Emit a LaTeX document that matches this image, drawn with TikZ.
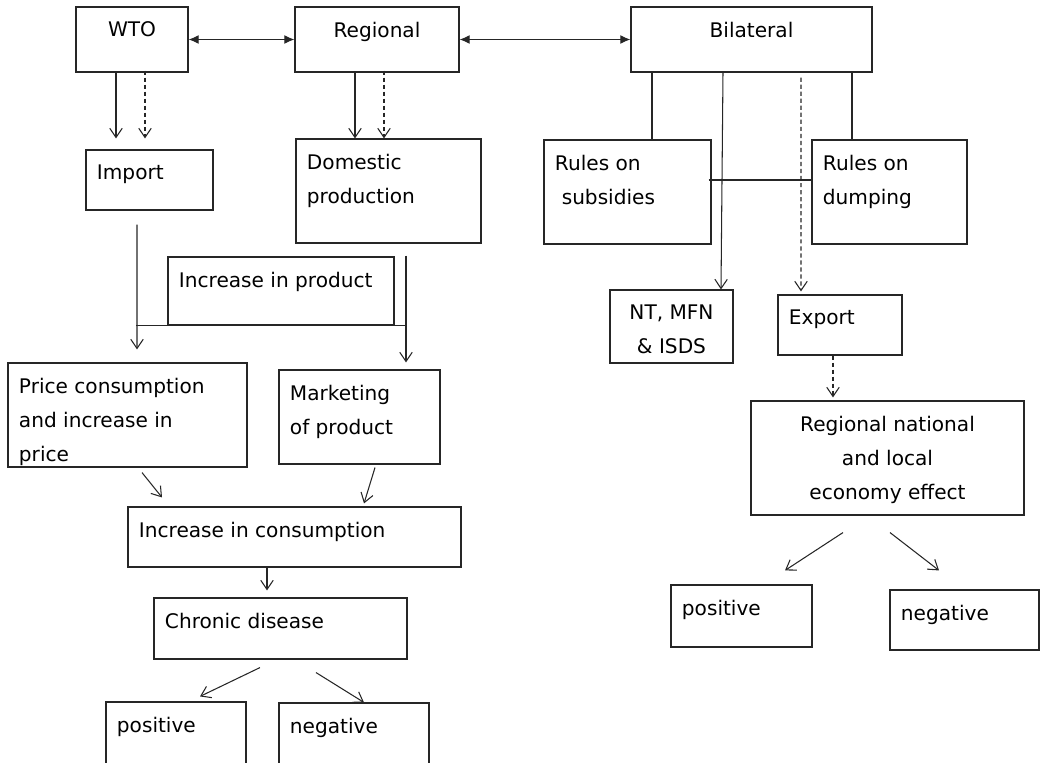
\documentclass[tikz,border=0pt]{standalone}
\usepackage{fontspec}
\setmainfont{DejaVu Sans}
\usetikzlibrary{arrows.meta,calc,fit}
\tikzset{
  box/.style={draw=black!85, line width=0.8pt, inner sep=0pt},
  lbl/.style={inner xsep=8pt, inner ysep=10.8pt, align=left, font=\fontsize{14.3}{24.2}\selectfont},
  tl/.style={label={[lbl,anchor=north west]north west:#1}},
  tc/.style={label={[lbl,align=center,anchor=north]north:#1}},
  link/.style={draw=black!85, line width=0.75pt},
  >={Straight Barb[length=2.3mm,width=3.1mm]},
  dbl/.style={link,{Latex[length=2.5mm,width=2.2mm]}-{Latex[length=2.5mm,width=2.2mm]}},
}
\begin{document}
\begin{tikzpicture}[x=0.025cm,y=-0.025cm]
  \useasboundingbox (0,0) rectangle (1042,763);
  \clip (0,0) rectangle (1042,763);
  % agreements
  \node[box,fit={(76,7)(188,72)},tc=WTO] (wto) {};
  \node[box,fit={(295,7)(459,72)},tc=Regional] (reg) {};
  \node[box,fit={(631,7)(872,72)},tc=Bilateral] (bil) {};
  % second row
  \node[box,fit={(86,150)(213,210)},tl=Import] (imp) {};
  \node[box,fit={(296,139)(481,243)},tl={Domestic\\production}] (dom) {};
  \node[box,fit={(544,140)(711,244)},tl={Rules on\\\hspace*{0.17cm}subsidies}] (subs) {};
  \node[box,fit={(812,140)(967,244)},tl={Rules on\\dumping}] (dump) {};
  \node[box,fit={(168,257)(394,325)},tl={Increase in product}] (prod) {};
  \node[box,fit={(610,290)(733,363)},tc={{NT, MFN}\\\& ISDS}] (nt) {};
  \node[box,fit={(778,295)(902,355)},tl=Export] (exp) {};
  % effects
  \node[box,fit={(8,363)(247,467)},tl={Price consumption\\and increase in\\price}] (price) {};
  \node[box,fit={(279,370)(440,464)},tl={Marketing\\of product}] (mkt) {};
  \node[box,fit={(751,401)(1024,515)},tc={Regional national\\and local\\economy effect}] (rne) {};
  \node[box,fit={(128,507)(461,567)},tl={Increase in consumption}] (cons) {};
  \node[box,fit={(154,598)(407,659)},tl={Chronic disease}] (chr) {};
  \node[box,fit={(106,702)(246,790)},tl=positive] (pos) {};
  \node[box,fit={(279,703)(429,790)},tl=negative] (neg) {};
  \node[box,fit={(671,585)(812,647)},tl=positive] (rpos) {};
  \node[box,fit={(890,590)(1039,650)},tl=negative] (rneg) {};

  % links between agreements
  \draw[dbl] (wto.east) -- (reg.west);
  \draw[dbl] (reg.east) -- (bil.west);
  \draw[link,->] ($(wto.south)+(-16,0)$) -- ($(imp.north)+(-33.5,-11)$);
  \draw[link,->,densely dashed] ($(wto.south)+(13,-2)$) -- ($(imp.north)+(-4.5,-11)$);
  \draw[link,->] ($(reg.south)+(-22,0)$) -- ($(dom.north)+(-33.5,0)$);
  \draw[link,->,densely dashed] ($(reg.south)+(7,-2)$) -- ($(dom.north)+(-4.5,0)$);
  \draw[link] ($(bil.south)+(-99.5,0)$) coordinate (b1) -- (b1 |- subs.north);
  \draw[link] ($(bil.south)+(100.5,0)$) coordinate (b2) -- (b2 |- dump.north);
  \draw[link,->] ($(bil.south)+(-28.5,0)$) -- ($(nt.north)+(49.5,0)$);
  \draw[link,->,densely dashed] ($(bil.south)+(49.5,5)$) -- ($(exp.north)+(-39,-3)$);
  \draw[link] ($(subs.east)+(-3,-12)$) -- ($(dump.west)+(0,-12)$);

  % product and price
  \draw[link,->] ($(imp.south)+(-12.5,14)$) -- ($(price.north)+(9.5,-13)$);
  \draw[link] ($(prod.south west)+(-31,0)$) -- ($(prod.south east)+(12,0)$);
  \draw[link,->] ($(dom.south)+(17.5,12)$) -- ($(mkt.north)+(46.5,-7)$);
  \draw[link,->] ($(price.south)+(14.5,5)$) -- ($(cons.north)+(-132.5,-9)$);
  \draw[link,->] ($(mkt.south)+(15.5,3)$) -- ($(cons.north)+(69.5,-3)$);
  \draw[link,->] ($(cons.south)+(-27.5,0)$) -- ($(chr.north)+(-13.5,-7)$);
  \draw[link,->] ($(chr.south)+(-20.5,8)$) -- ($(pos.north)+(24,-5)$);
  \draw[link,->] ($(chr.south)+(35.5,13)$) -- ($(neg.north)+(10,0)$);

  % export side
  \draw[link,->,densely dashed] ($(exp.south)+(-7,0)$) -- ($(rne.north)+(-54.5,-3)$);
  \draw[link,->] ($(rne.south)+(-44.5,17)$) -- ($(rpos.north)+(43.5,-14)$);
  \draw[link,->] ($(rne.south)+(2.5,17)$) -- ($(rneg.north)+(-25.5,-19)$);
\end{tikzpicture}
\end{document}
